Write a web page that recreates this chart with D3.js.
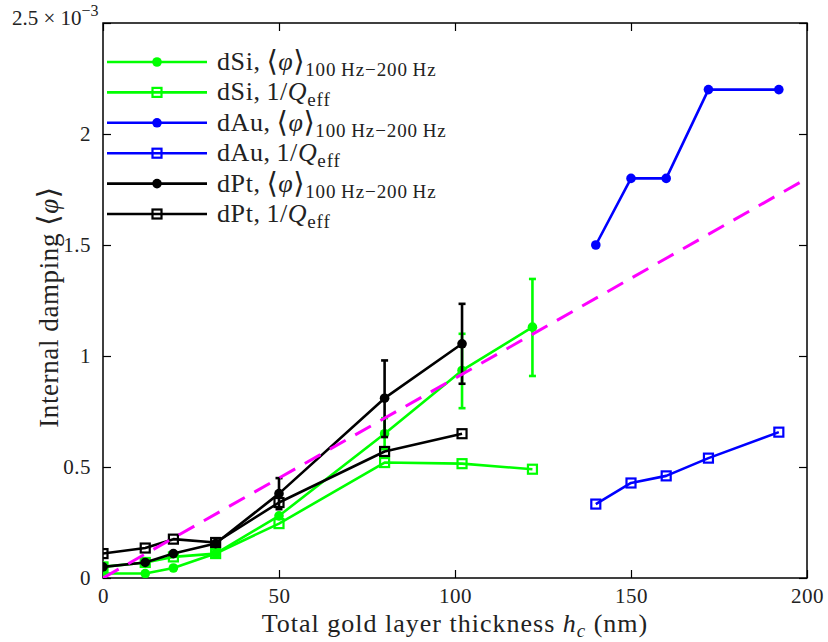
<!DOCTYPE html>
<html><head><meta charset="utf-8">
<script src="https://cdn.jsdelivr.net/npm/d3@7"></script>
<style>body{margin:0;background:#fff}svg{display:block}</style>
</head><body>
<svg id="c" width="828" height="642"></svg>
<script>
// ---------- data (values in units of 1e-3) ----------
const dSiX = [0, 12, 20, 32, 50, 80, 102, 122];
const dSiPhi = [0.02, 0.02, 0.045, 0.11, 0.28, 0.65, 0.935, 1.13];
const dSiPhiLo = [null, null, null, null, null, 0.58, 0.765, 0.91];
const dSiPhiHi = [null, null, null, null, null, 0.72, 1.10, 1.347];
const dSiQ = [0.05, 0.07, 0.095, 0.11, 0.245, 0.52, 0.515, 0.49];

const dAuX = [140, 150, 160, 172, 192];
const dAuPhi = [1.5, 1.8, 1.8, 2.2, 2.2];
const dAuQ = [0.333, 0.428, 0.46, 0.54, 0.657];

const dPtX = [0, 12, 20, 32, 50, 80, 102];
const dPtPhi = [0.05, 0.07, 0.11, 0.155, 0.38, 0.81, 1.055];
const dPtPhiLo = [null, null, null, null, 0.31, 0.635, 0.875];
const dPtPhiHi = [null, null, null, null, 0.45, 0.98, 1.235];
const dPtQ = [0.11, 0.135, 0.175, 0.16, 0.34, 0.57, 0.65];

const fitX = [0, 200];
const fitY = [0, 1.8];

const xTicks = [0, 50, 100, 150, 200];
const yTicks = [0, 0.5, 1, 1.5, 2, 2.5];
const yTickLabels = ["0", "0.5", "1", "1.5", "2", ""];

const series = [
  {name: "dSi", kind: "phi", color: "#00ff00", x: dSiX, y: dSiPhi, lo: dSiPhiLo, hi: dSiPhiHi, marker: "circle"},
  {name: "dSi", kind: "Q", color: "#00ff00", x: dSiX, y: dSiQ, marker: "square"},
  {name: "dAu", kind: "phi", color: "#0000ff", x: dAuX, y: dAuPhi, marker: "circle"},
  {name: "dAu", kind: "Q", color: "#0000ff", x: dAuX, y: dAuQ, marker: "square"},
  {name: "dPt", kind: "phi", color: "#000000", x: dPtX, y: dPtPhi, lo: dPtPhiLo, hi: dPtPhiHi, marker: "circle"},
  {name: "dPt", kind: "Q", color: "#000000", x: dPtX, y: dPtQ, marker: "square"}
];

// ---------- layout ----------
const svg = d3.select("#c");
const L = 103, R = 807, T = 23, B = 578;
const FONT = "'Liberation Serif', 'DejaVu Serif', serif";
const x = d3.scaleLinear().domain([0, 200]).range([L, R]);
const y = d3.scaleLinear().domain([0, 2.5]).range([B, T]);

const clipId = "plotclip";
svg.append("clipPath").attr("id", clipId).append("rect")
  .attr("x", L).attr("y", T).attr("width", R - L).attr("height", B - T);

// axes (inward ticks, box)
const tl = 8;
const gx = svg.append("g").attr("transform", `translate(0,${B})`)
  .call(d3.axisBottom(x).tickValues(xTicks).tickSize(-tl).tickPadding(10).tickFormat(d3.format("d")));
const gxt = svg.append("g").attr("transform", `translate(0,${T})`)
  .call(d3.axisTop(x).tickValues(xTicks).tickSize(-tl).tickFormat(""));
const gy = svg.append("g").attr("transform", `translate(${L},0)`)
  .call(d3.axisLeft(y).tickValues(yTicks).tickSize(-tl).tickPadding(12)
    .tickFormat((d, i) => yTickLabels[i]));
const gyr = svg.append("g").attr("transform", `translate(${R},0)`)
  .call(d3.axisRight(y).tickValues(yTicks).tickSize(-tl).tickFormat(""));
[gx, gxt, gy, gyr].forEach(g => {
  g.select(".domain").remove();
  g.selectAll("line").attr("stroke", "#000").attr("stroke-width", 1.2);
  g.selectAll("text").attr("font-family", FONT).attr("font-size", 21).attr("fill", "#222")
    .attr("letter-spacing", 0.5);
});
svg.append("rect").attr("x", L).attr("y", T).attr("width", R - L).attr("height", B - T)
  .attr("fill", "none").attr("stroke", "#000").attr("stroke-width", 1.5);

// plot area
const plot = svg.append("g").attr("clip-path", `url(#${clipId})`);

function drawMarker(g, m, cx, cy, color) {
  if (m === "circle") {
    g.append("circle").attr("cx", cx).attr("cy", cy).attr("r", 4.8).attr("fill", color);
  } else {
    g.append("rect").attr("x", cx - 4.5).attr("y", cy - 4.5).attr("width", 9).attr("height", 9)
      .attr("fill", "none").attr("stroke", color).attr("stroke-width", 2.2);
  }
}

series.forEach(s => {
  const pts = s.x.map((xv, i) => [xv, s.y[i]]);
  const g = plot.append("g");
  g.append("path").attr("d", d3.line().x(d => x(d[0])).y(d => y(d[1]))(pts))
    .attr("fill", "none").attr("stroke", s.color).attr("stroke-width", 2.6).attr("stroke-linejoin", "round");
  if (s.lo) {
    s.x.forEach((xv, i) => {
      if (s.lo[i] == null) return;
      const cx = x(xv), y1 = y(s.lo[i]), y2 = y(s.hi[i]);
      g.append("line").attr("x1", cx).attr("x2", cx).attr("y1", y1).attr("y2", y2)
        .attr("stroke", s.color).attr("stroke-width", 2.6);
      [y1, y2].forEach(yy => g.append("line").attr("x1", cx - 3.5).attr("x2", cx + 3.5)
        .attr("y1", yy).attr("y2", yy).attr("stroke", s.color).attr("stroke-width", 2.6));
    });
  }
  pts.forEach(p => drawMarker(g, s.marker, x(p[0]), y(p[1]), s.color));
});

// fitted dashed line
plot.append("path").attr("d", d3.line().x(d => x(d[0])).y(d => y(d[1]))(fitX.map((v, i) => [v, fitY[i]])))
  .attr("fill", "none").attr("stroke", "#ff00ff").attr("stroke-width", 3)
  .attr("stroke-dasharray", "18,11");

// legend
const leg = svg.append("g");
series.forEach((s, i) => {
  const ly = 62 + i * 30.4;
  leg.append("line").attr("x1", 107).attr("x2", 207).attr("y1", ly).attr("y2", ly)
    .attr("stroke", s.color).attr("stroke-width", 2.6);
  drawMarker(leg, s.marker, 157, ly, s.color);
  const t = leg.append("text").attr("x", 217).attr("y", ly + 8)
    .attr("font-family", FONT).attr("font-size", 26).attr("fill", "#222").attr("letter-spacing", 0.6);
  t.append("tspan").text(s.name + ",\u2009");
  if (s.kind === "phi") {
    t.append("tspan").attr("font-size", 29).attr("dy", 1).text("⟨");
    t.append("tspan").attr("font-style", "italic").attr("dy", -1).text("φ");
    t.append("tspan").attr("font-size", 29).attr("dy", 1).text("⟩");
    t.append("tspan").attr("font-size", 19).attr("dy", 5).attr("letter-spacing", 0.9)
      .text("100\u2009Hz\u2212200\u2009Hz");
  } else {
    t.append("tspan").text("1/");
    t.append("tspan").attr("font-style", "italic").text("Q");
    t.append("tspan").attr("font-size", 19).attr("dy", 6).attr("letter-spacing", 0.9).text("eff");
  }
});

// exponent label
const ex = svg.append("text").attr("x", 12).attr("y", 25)
  .attr("font-family", FONT).attr("font-size", 21).attr("fill", "#222");
ex.append("tspan").text("2.5 \u00d7 10");
ex.append("tspan").attr("font-size", 16).attr("dy", -9).text("\u22123");

// axis titles
const xl = svg.append("text").attr("x", (L + R) / 2).attr("y", 632).attr("text-anchor", "middle")
  .attr("font-family", FONT).attr("font-size", 26).attr("fill", "#222").attr("letter-spacing", 1.0);
xl.append("tspan").text("Total gold layer thickness ");
xl.append("tspan").attr("font-style", "italic").text("h");
xl.append("tspan").attr("font-style", "italic").attr("font-size", 19).attr("dy", 5).text("c");
xl.append("tspan").attr("dy", -5).text(" (nm)");

const yl = svg.append("text").attr("transform", "translate(58,307) rotate(-90)").attr("text-anchor", "middle")
  .attr("font-family", FONT).attr("font-size", 27).attr("fill", "#222").attr("letter-spacing", 0.6);
yl.append("tspan").text("Internal damping ");
yl.append("tspan").attr("font-size", 29).text("⟨");
yl.append("tspan").attr("font-style", "italic").text("φ");
yl.append("tspan").attr("font-size", 29).text("⟩");
</script>
</body></html>
